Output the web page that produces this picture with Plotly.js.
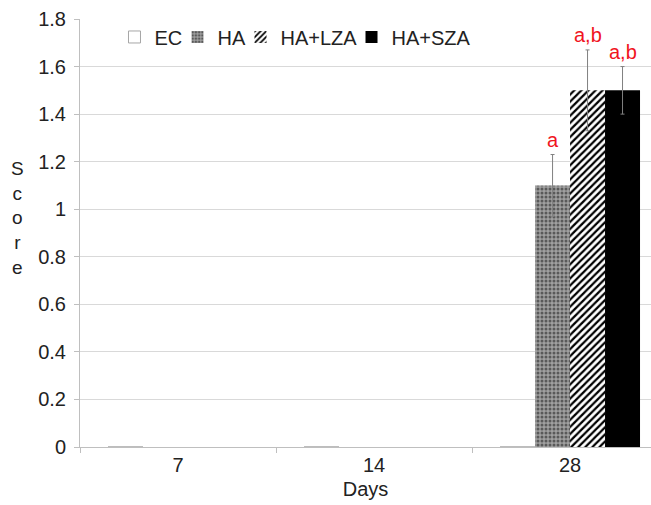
<!DOCTYPE html>
<html>
<head>
<meta charset="utf-8">
<script src="https://cdn.plot.ly/plotly-3.0.1.min.js"></script>
<style>html,body{margin:0;padding:0;background:#fff;}#chart{width:651px;height:505px;}</style>
</head>
<body>
<div id="chart"></div>
<script>
const days = ["7", "14", "28"];
const seriesNames = ["EC", "HA", "HA+LZA", "HA+SZA"];
const ecValues = [0, 0, 0];
const haValues = [0, 0, 1.1];
const lzaValues = [0, 0, 1.5];
const szaValues = [0, 0, 1.5];
const haErr = [NaN, NaN, 0.13];
const lzaErr = [NaN, NaN, 0.17];
const szaErr = [NaN, NaN, 0.1];
const haLabels = ["", "", "a"];
const lzaLabels = ["", "", "a,b"];
const szaLabels = ["", "", "a,b"];

const FONT = "Liberation Sans, Arial, sans-serif";
const FS = 20;
const errStyle = (arr) => ({type: "data", array: arr, symmetric: true, visible: true,
  color: "#808080", thickness: 1, width: 2});

const traces = [
  {type: "bar", name: seriesNames[0], x: days, y: ecValues, legend: "legend",
   marker: {color: "#ffffff", line: {color: "#a6a6a6", width: 1}}},
  {type: "bar", name: seriesNames[1], x: days, y: haValues, error_y: errStyle(haErr), legend: "legend2",
   marker: {color: "#8c8c8c", line: {width: 0},
            pattern: {shape: ".", fgcolor: "#595959", bgcolor: "#a0a0a0", size: 4, solidity: 0.45}}},
  {type: "bar", name: seriesNames[2], x: days, y: lzaValues, error_y: errStyle(lzaErr), legend: "legend3",
   marker: {color: "#000000", line: {width: 0},
            pattern: {shape: "/", fgcolor: "#000000", bgcolor: "#ffffff", size: 5, solidity: 0.45}}},
  {type: "bar", name: seriesNames[3], x: days, y: szaValues, error_y: errStyle(szaErr), legend: "legend4",
   marker: {color: "#000000", line: {width: 0}}}
];

// significance labels above error bars
const annotations = [];
const groups = [[haValues, haErr, haLabels, -17.5], [lzaValues, lzaErr, lzaLabels, 17.5], [szaValues, szaErr, szaLabels, 52.5]];
groups.forEach(([vals, errs, labs, shift]) => {
  vals.forEach((v, i) => {
    if (labs[i]) {
      annotations.push({x: i, y: v + (isNaN(errs[i]) ? 0 : errs[i]), xref: "x", yref: "y", text: labs[i],
        showarrow: false, xshift: shift, yanchor: "bottom", yshift: 2,
        font: {family: FONT, size: FS, color: "#f0141e"}});
    }
  });
});
annotations.push({xref: "paper", yref: "paper", x: -0.11, y: 0.535, text: "S<br>c<br>o<br>r<br>e",
  showarrow: false, xanchor: "center", yanchor: "middle", align: "center",
  font: {family: FONT, size: 19, color: "#222222"}});

// one legend box per series so each entry sits where the reference has it
const legendStarts = [0.0604, 0.1708, 0.2811, 0.4755];
const mkLegend = (x) => ({orientation: "h", x: x, y: 0.958, xanchor: "left", yanchor: "middle",
  bgcolor: "rgba(0,0,0,0)", font: {family: FONT, size: FS, color: "#222222"}, itemwidth: 30});

const layout = {
  width: 651, height: 505,
  margin: {l: 80, r: 0, t: 19, b: 58, pad: 0},
  paper_bgcolor: "#ffffff", plot_bgcolor: "#ffffff",
  font: {family: FONT, size: FS, color: "#222222"},
  barmode: "group", bargap: 0.286, bargroupgap: 0,
  showlegend: true,
  legend: mkLegend(legendStarts[0]),
  legend2: mkLegend(legendStarts[1]),
  legend3: mkLegend(legendStarts[2]),
  legend4: mkLegend(legendStarts[3]),
  xaxis: {type: "category", range: [-0.5, 2.413], tickson: "boundaries", ticks: "outside",
          ticklen: 5, tickcolor: "#bfbfbf", showgrid: false, showline: true, linecolor: "#bfbfbf",
          linewidth: 1, zeroline: false, tickfont: {family: FONT, size: FS, color: "#222222"},
          title: {text: "Days", standoff: 6, font: {family: FONT, size: FS, color: "#222222"}}},
  yaxis: {range: [0, 1.8], dtick: 0.2, tick0: 0, ticks: "outside", ticklen: 5, tickcolor: "#bfbfbf",
          showgrid: true, gridcolor: "#d9d9d9", showline: true, linecolor: "#bfbfbf", linewidth: 1,
          zeroline: false, ticklabelstandoff: 4,
          tickfont: {family: FONT, size: FS, color: "#222222"}},
  annotations: annotations
};

Plotly.newPlot("chart", traces, layout, {displayModeBar: false, staticPlot: true});
</script>
</body>
</html>
